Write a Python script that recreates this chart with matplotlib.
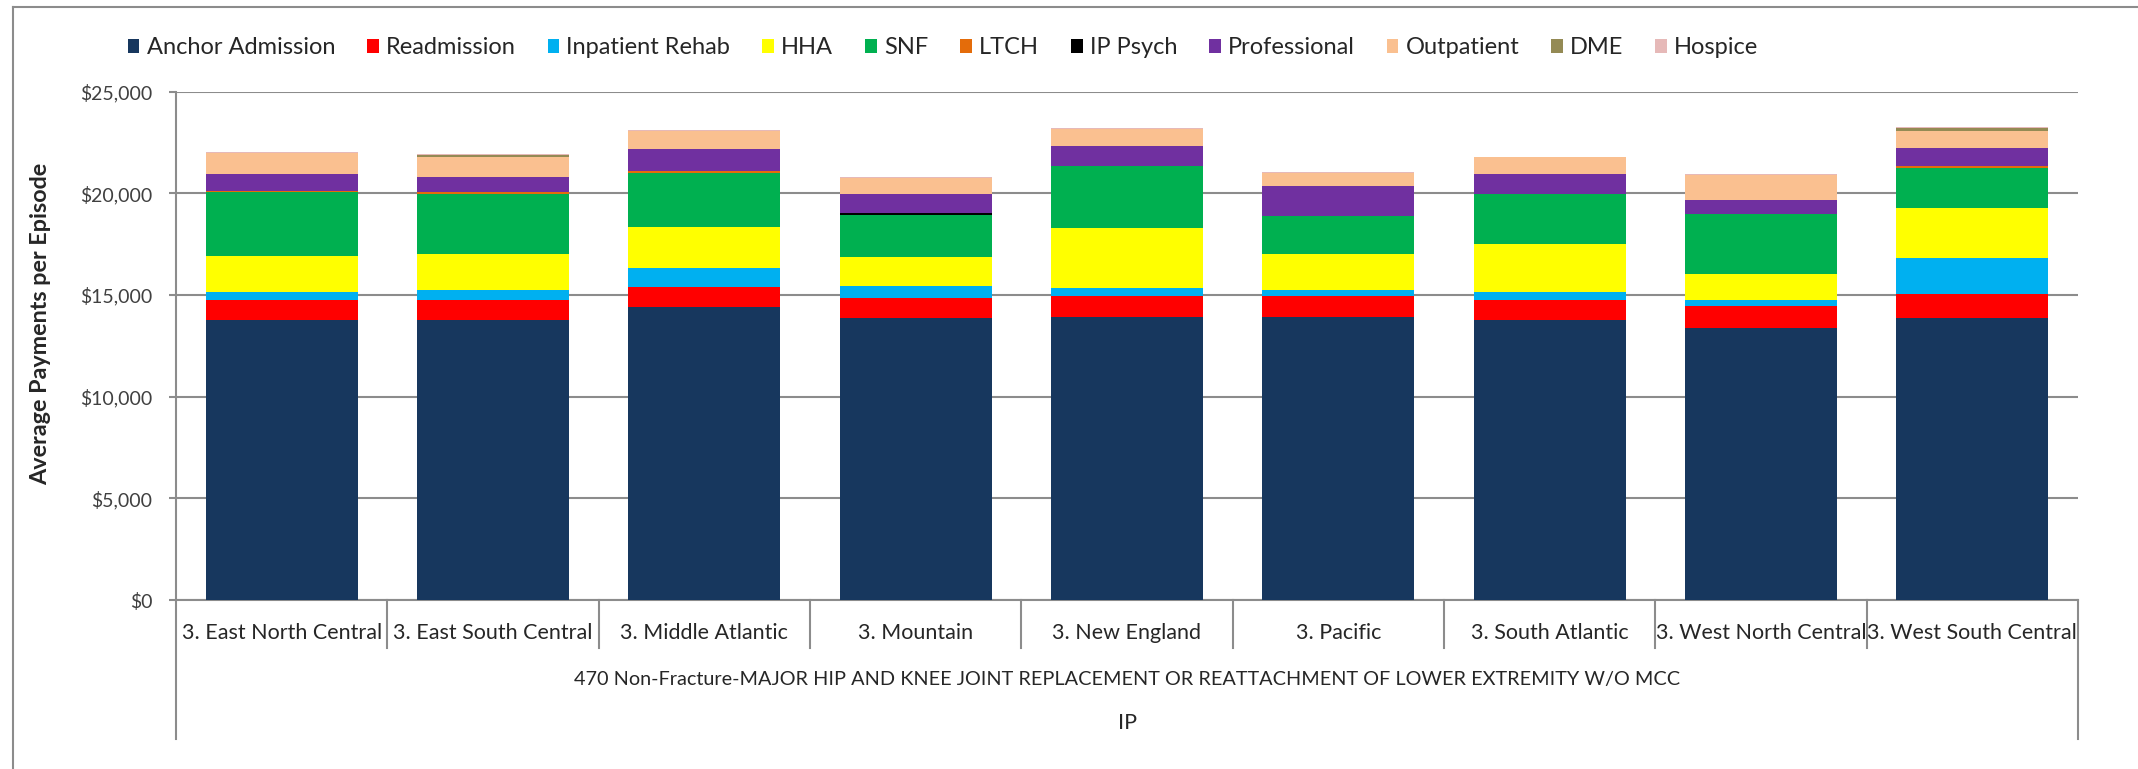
import numpy as np
import matplotlib
matplotlib.use("Agg")
import matplotlib.pyplot as plt
from matplotlib.lines import Line2D
from matplotlib.ticker import FuncFormatter

plt.rcParams['font.family'] = ['Lato', 'DejaVu Sans']

regions = ["3. East North Central", "3. East South Central", "3. Middle Atlantic",
           "3. Mountain", "3. New England", "3. Pacific", "3. South Atlantic",
           "3. West North Central", "3. West South Central"]

# average payment per episode ($), one list per cost type
anchor = [13750, 13750, 14420, 13850, 13930, 13930, 13750, 13360, 13850]
readmission = [980, 980, 980, 980, 1000, 1000, 980, 1080, 1180]
inpatient_rehab = [400, 500, 910, 590, 390, 300, 400, 290, 1770]
hha = [1770, 1770, 2040, 1460, 2950, 1770, 2360, 1280, 2460]
snf = [3140, 2960, 2660, 2060, 3050, 1890, 2460, 2950, 1960]
ltch = [80, 80, 90, 0, 0, 0, 0, 0, 100]
ip_psych = [0, 0, 0, 100, 0, 0, 0, 0, 0]
professional = [810, 770, 1080, 910, 980, 1450, 980, 690, 890]
outpatient = [1030, 950, 870, 820, 850, 650, 830, 1240, 860]
dme = [0, 100, 0, 0, 0, 0, 0, 0, 120]
hospice = [50, 50, 40, 40, 40, 40, 40, 40, 80]

series_names = ["Anchor Admission", "Readmission", "Inpatient Rehab", "HHA", "SNF",
                "LTCH", "IP Psych", "Professional", "Outpatient", "DME", "Hospice"]
series = [anchor, readmission, inpatient_rehab, hha, snf, ltch, ip_psych,
          professional, outpatient, dme, hospice]
colors = ["#17375E", "#FF0000", "#00B0F0", "#FFFF00", "#00B050", "#E46C0A",
          "#000000", "#7030A0", "#FAC090", "#948A54", "#E6B9B8"]

group_label = "470 Non-Fracture-MAJOR HIP AND KNEE JOINT REPLACEMENT OR REATTACHMENT OF LOWER EXTREMITY W/O MCC"
top_label = "IP"

GREY = "#8C8C8C"
TXT = "#262626"

W, H = 2138, 769
fig = plt.figure(figsize=(W / 100, H / 100), dpi=100)

left, right = 176 / W, 2078 / W
bottom, top = 1 - 600 / H, 1 - 91.5 / H
ax = fig.add_axes([left, bottom, right - left, top - bottom])

x = np.arange(len(regions))
base = np.zeros(len(regions))
for name, vals, c in zip(series_names, series, colors):
    ax.bar(x, vals, bottom=base, width=0.72, color=c, linewidth=0, label=name, zorder=3)
    base += np.array(vals)

ax.set_xlim(-0.5, len(regions) - 0.5)
ax.set_ylim(0, 25000)
ax.set_yticks(np.arange(0, 25001, 5000))
ax.yaxis.set_major_formatter(FuncFormatter(lambda v, p: f"${v:,.0f}"))
ax.yaxis.grid(True, color=GREY, linewidth=1.5, zorder=0)
ax.set_xticks([])
for s in ["top", "right"]:
    ax.spines[s].set_visible(False)
ax.spines["left"].set_color(GREY)
ax.spines["left"].set_linewidth(1.5)
ax.spines["bottom"].set_color(GREY)
ax.spines["bottom"].set_linewidth(1.5)
ax.tick_params(axis="y", length=5, width=1.5, color=GREY, labelsize=14,
               labelcolor="#404040", pad=12)

# category axis area below the plot
trans = ax.get_xaxis_transform()
for i, r in enumerate(regions):
    ax.text(i, -33 / 509, r, transform=trans, ha="center", va="center",
            fontsize=15.5, color=TXT, clip_on=False)
for b in np.arange(0.5, len(regions) - 0.5, 1):
    ax.add_line(Line2D([b, b], [0, -48 / 509], transform=trans, color=GREY,
                       linewidth=1.5, clip_on=False))
for b in [-0.5, len(regions) - 0.5]:
    ax.add_line(Line2D([b, b], [0, -139 / 509], transform=trans, color=GREY,
                       linewidth=1.5, clip_on=False))
ax.text((len(regions) - 1) / 2, -80 / 509, group_label, transform=trans, ha="center",
        va="center", fontsize=14.3, color=TXT, clip_on=False)
ax.text((len(regions) - 1) / 2, -123 / 509, top_label, transform=trans, ha="center",
        va="center", fontsize=15.5, color=TXT, clip_on=False)

fig.text(41 / W, 1 - 324 / H, "Average Payments per Episode", rotation=90,
         ha="center", va="center", fontsize=16.8, fontweight="bold", color=TXT)

# chart frame (left and top edges visible)
fig.add_artist(Line2D([13 / W, 13 / W], [0, 1 - 7 / H], transform=fig.transFigure,
                      color=GREY, linewidth=1.5))
fig.add_artist(Line2D([13 / W, 1], [1 - 7 / H, 1 - 7 / H], transform=fig.transFigure,
                      color=GREY, linewidth=1.5))

handles, labels = ax.get_legend_handles_labels()
fig.legend(handles, labels, loc="center", bbox_to_anchor=(943 / W, 1 - 48 / H),
           ncol=11, frameon=False, fontsize=17, handlelength=0.5, handleheight=0.5,
           handletextpad=0.3, columnspacing=1.35, labelcolor=TXT)

fig.savefig("out.png", dpi=100, facecolor="white")
